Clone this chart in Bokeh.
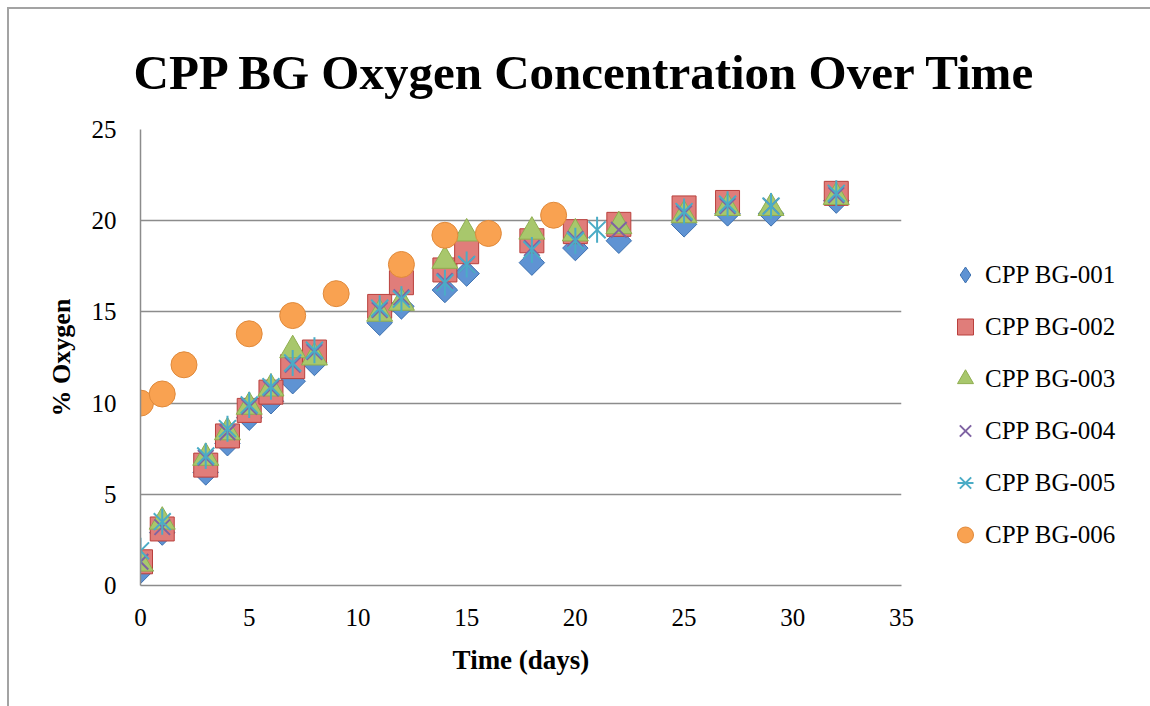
import math

from bokeh.embed import file_html
from bokeh.models import FixedTicker, Legend, LegendItem, Range1d, Title
from bokeh.plotting import figure
from bokeh.resources import INLINE

# ---- data -------------------------------------------------------------
x_ticks = [0, 5, 10, 15, 20, 25, 30, 35]
y_ticks = [0, 5, 10, 15, 20, 25]

days_001 = [0, 1, 3, 4, 5, 6, 7, 8, 11, 12, 14, 15, 18, 20, 22, 25, 27, 29, 32]
bg_001 = [0.8, 2.9, 6.2, 7.8, 9.2, 10.1, 11.2, 12.2, 14.4, 15.3, 16.2, 17.1, 17.7, 18.5, 18.9, 19.8, 20.4, 20.4, 21.1]

days_002 = [0, 1, 3, 4, 5, 6, 7, 8, 11, 12, 14, 15, 18, 20, 22, 25, 27, 32]
bg_002 = [1.3, 3.1, 6.6, 8.2, 9.6, 10.6, 12.0, 12.8, 15.3, 16.6, 17.3, 18.3, 18.9, 19.4, 19.8, 20.7, 21.0, 21.5]

days_003 = [0, 1, 3, 4, 5, 6, 7, 8, 11, 12, 14, 15, 18, 20, 22, 25, 27, 29, 32]
bg_003 = [1.2, 3.5, 7.0, 8.4, 9.8, 10.8, 12.9, 12.5, 14.9, 15.5, 17.8, 19.3, 19.4, 19.3, 19.7, 20.3, 20.7, 20.7, 21.3]

days_004 = [0, 1, 3, 4, 5, 6, 7, 8, 11, 12, 14, 15, 18, 20, 22, 25, 27, 29, 32]
bg_004 = [1.3, 3.2, 7.0, 8.4, 9.8, 10.8, 12.1, 12.8, 15.1, 15.8, 16.7, 17.6, 18.5, 19.0, 19.5, 20.4, 20.8, 20.8, 21.4]

days_005 = [0, 1, 3, 4, 5, 6, 7, 8, 11, 12, 14, 15, 18, 20, 21, 25, 27, 29, 32]
bg_005 = [1.9, 3.5, 7.1, 8.6, 9.9, 10.9, 12.2, 12.9, 15.2, 15.7, 16.6, 17.6, 18.4, 18.9, 19.5, 20.5, 20.9, 20.8, 21.5]

days_006 = [0, 1, 2, 5, 7, 9, 12, 14, 16, 19]
bg_006 = [10.0, 10.5, 12.1, 13.8, 14.8, 16.0, 17.6, 19.2, 19.3, 20.3]

series_names = ["CPP BG-001", "CPP BG-002", "CPP BG-003", "CPP BG-004", "CPP BG-005", "CPP BG-006"]

SERIF = "Liberation Serif"
GRID = "#8c8c8c"

# ---- figure -----------------------------------------------------------
p = figure(
    frame_width=761, frame_height=456,
    min_border_left=131, min_border_right=249,
    min_border_top=120, min_border_bottom=121,
    x_range=Range1d(0, 35), y_range=Range1d(0, 25),
    output_backend="svg", toolbar_location=None,
    title=None, margin=(7, 0, 0, 7),
)
p.styles = {"border-left": "2px solid #a3a3a3", "border-top": "2px solid #a3a3a3"}
p.outline_line_color = None
p.background_fill_color = "white"
p.border_fill_color = "white"

p.add_layout(Title(
    text="CPP BG Oxygen Concentration Over Time",
    align="left", offset=-7, standoff=60,
    text_font=SERIF, text_font_size="49px", text_font_style="bold",
    text_color="black",
), "above")

# axes
for ax in (p.xaxis[0], p.yaxis[0]):
    ax.axis_line_color = GRID
    ax.axis_line_width = 1.5
    ax.major_tick_line_color = None
    ax.minor_tick_line_color = None
    ax.major_tick_out = 0
    ax.major_tick_in = 0
    ax.major_label_text_font = SERIF
    ax.major_label_text_font_size = "25px"
    ax.major_label_text_color = "black"
    ax.axis_label_text_font = SERIF
    ax.axis_label_text_font_style = "bold"
    ax.axis_label_text_color = "black"

p.xaxis.ticker = FixedTicker(ticks=x_ticks)
p.yaxis.ticker = FixedTicker(ticks=y_ticks)
p.xaxis.axis_label = "Time (days)"
p.yaxis.axis_label = "% Oxygen"
p.xaxis.axis_label_text_font_size = "27px"
p.yaxis.axis_label_text_font_size = "26px"
p.xaxis.major_label_standoff = 23
p.yaxis.major_label_standoff = 24
p.xaxis.axis_label_standoff = 16
p.yaxis.axis_label_standoff = 13

p.xgrid.grid_line_color = None
p.ygrid.grid_line_color = GRID
p.ygrid.grid_line_width = 1.5

# ---- markers ----------------------------------------------------------
BLUE = dict(fill_color="#5f93d3", line_color="#3f72b0", line_width=1)

# narrow diamond underneath (also serves as the legend key), then the
# full square-on-point diamond on top of it
r1_key = p.scatter(days_001, bg_001, marker="diamond", size=24, **BLUE)
r1 = p.scatter(days_001, bg_001, marker="square", angle=math.pi / 4, size=18, **BLUE)
r2 = p.scatter(days_002, bg_002, marker="square", size=24,
               fill_color="#e07d7a", line_color="#b9403d", line_width=1)
r3 = p.scatter(days_003, bg_003, marker="triangle", size=26,
               fill_color="#a8c76c", line_color="#8fae4f", line_width=1)
r4 = p.scatter(days_004, bg_004, marker="x", size=22,
               line_color="#7f63a3", line_width=2)
r5a = p.scatter(days_005, bg_005, marker="x", size=24,
                line_color="#4bacc6", line_width=2)
r5b = p.scatter(days_005, bg_005, marker="dash", angle=math.pi / 2, size=26,
                line_color="#4bacc6", line_width=2)
r6 = p.scatter(days_006, bg_006, marker="circle", size=26,
               fill_color="#f9a251", line_color="#e0893a", line_width=1)

legend = Legend(
    items=[
        LegendItem(label=series_names[0], renderers=[r1_key]),
        LegendItem(label=series_names[1], renderers=[r2]),
        LegendItem(label=series_names[2], renderers=[r3]),
        LegendItem(label=series_names[3], renderers=[r4]),
        LegendItem(label=series_names[4], renderers=[r5a, r5b]),
        LegendItem(label=series_names[5], renderers=[r6]),
    ],
    location=(44, 28),
    glyph_width=40, glyph_height=45, spacing=7,
    padding=0, margin=0, label_standoff=0,
    label_text_font=SERIF, label_text_font_size="25px", label_text_color="black",
    border_line_color=None, background_fill_alpha=0,
)
p.add_layout(legend, "right")

open("out.html", "w").write(file_html(p, INLINE))
